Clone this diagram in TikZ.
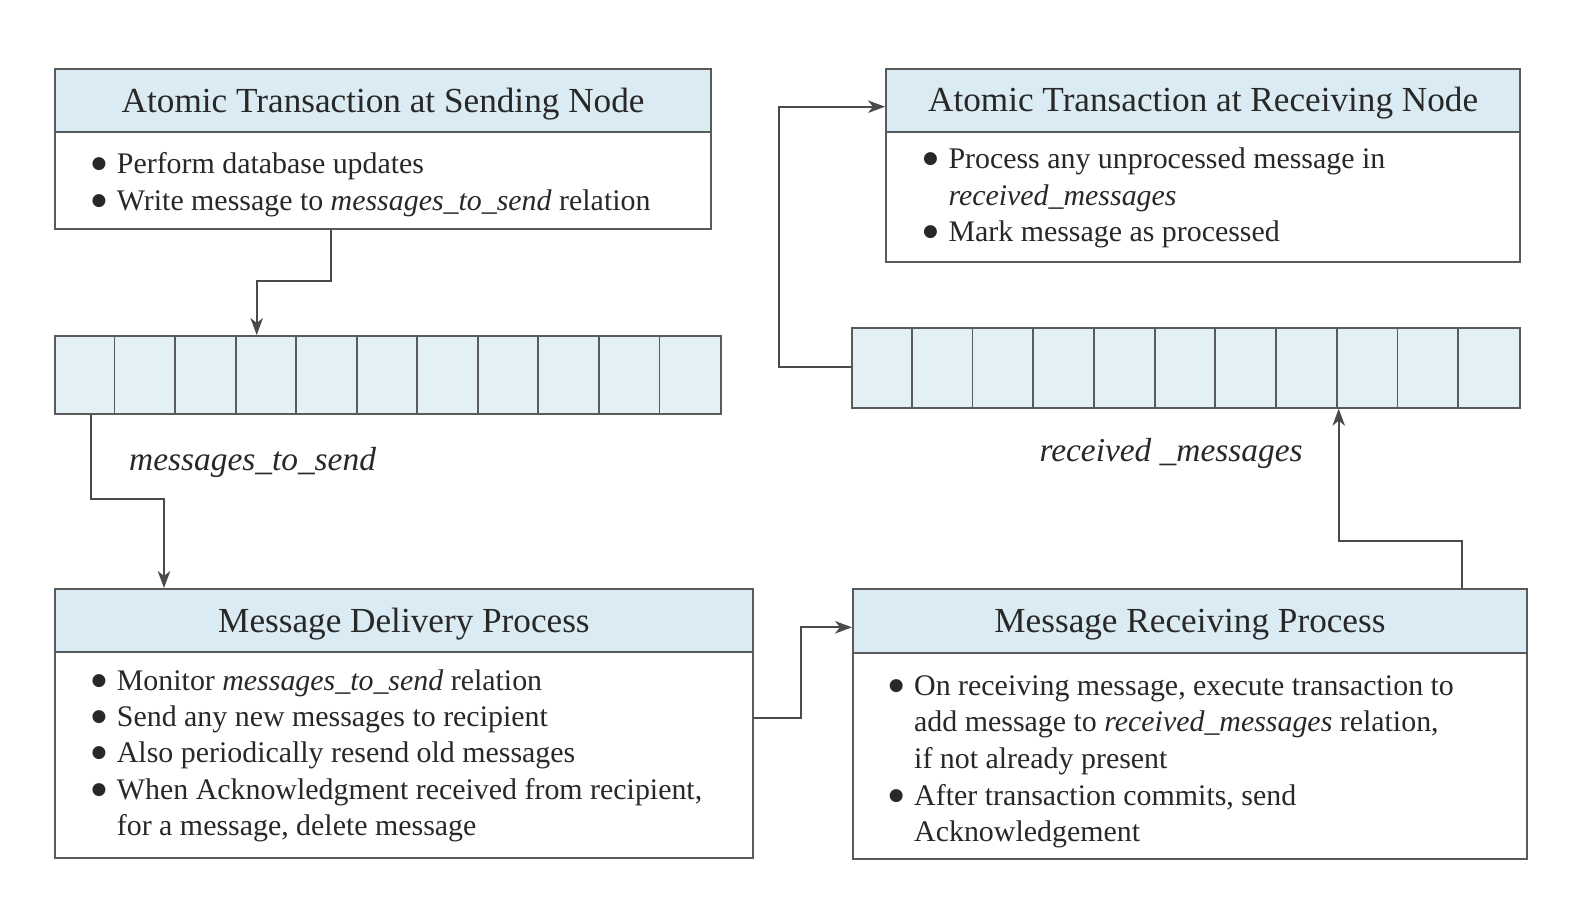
\documentclass[tikz,border=0pt]{standalone}
\usepackage{fontspec}
\setmainfont{Liberation Serif}
\newfontfamily\dotfont{DejaVu Sans}
\usetikzlibrary{arrows.meta}
\definecolor{hdrfill}{HTML}{DAEBF3}
\definecolor{cellfill}{HTML}{E3F0F6}
\definecolor{edgecol}{HTML}{5A5A5A}
\definecolor{conncol}{HTML}{4A4A4A}
\definecolor{txtcol}{HTML}{282828}
\newcommand{\bulmark}{\llap{\raisebox{5pt}{\dotfont\fontsize{17}{17}\selectfont ●}\hspace{10.5pt}}}
\begin{document}
\begin{tikzpicture}[x=1pt,y=-1pt,
  hdr/.style={draw=edgecol, line width=2.2pt, fill=hdrfill, anchor=north west,
    inner sep=0pt, text height=23.3pt, text depth=0pt,
    font=\fontsize{35.2}{40}\selectfont, text=txtcol},
  bodybox/.style={draw=edgecol, line width=2.2pt, fill=white, anchor=north west, inner sep=0pt},
  queue/.style={draw=edgecol, line width=2pt, fill=cellfill, anchor=north west, inner sep=0pt},
  divider/.style={draw=edgecol, line width=1.8pt},
  bl/.style={anchor=base west, inner sep=0pt, font=\fontsize{29.9}{36}\selectfont, text=txtcol},
  lbl/.style={anchor=base west, inner sep=0pt, font=\fontsize{33.4}{40}\selectfont\itshape, text=txtcol},
  conn/.style={draw=conncol, line width=1.8pt, -{Stealth[length=17pt,width=12.5pt,inset=5pt]}}]
\useasboundingbox (0,0) rectangle (1592,904);

% --- Box 1: sending node
\node[bodybox, minimum width=656pt, minimum height=96.7pt] (b1b) at (54,131) {};
\node[hdr, minimum width=656pt, minimum height=63.3pt] (b1h) at (54,67.7) {Atomic Transaction at Sending Node};
\node[bl] (b1l1) at (116.7,174) {\bulmark Perform database updates};
\node[bl] (b1l2) at (116.7,211) {\bulmark Write message to \textit{messages\_to\_send} relation};

% --- Box 2: receiving node
\node[bodybox, minimum width=634pt, minimum height=130.3pt] (b2b) at (885,130.7) {};
\node[hdr, minimum width=634pt, minimum height=63pt] (b2h) at (885,67.7) {Atomic Transaction at Receiving Node};
\node[bl] (b2l1) at (948.3,168.3) {\bulmark Process any unprocessed message in};
\node[bl] (b2l2) at (948.3,205) {\textit{received\_messages}};
\node[bl] (b2l3) at (948.3,241.7) {\bulmark Mark message as processed};

% --- Box 3: delivery process
\node[bodybox, minimum width=697.7pt, minimum height=205.5pt] (b3b) at (54,651) {};
\node[hdr, minimum width=697.7pt, minimum height=63pt] (b3h) at (54,588) {Message Delivery Process};
\node[bl] (b3l1) at (116.7,690) {\bulmark Monitor \textit{messages\_to\_send} relation};
\node[bl] (b3l2) at (116.7,726.3) {\bulmark Send any new messages to recipient};
\node[bl] (b3l3) at (116.7,762.6) {\bulmark Also periodically resend old messages};
\node[bl] (b3l4) at (116.7,799) {\bulmark When Acknowledgment received from recipient,};
\node[bl] (b3l5) at (116.7,835.3) {for a message, delete message};

% --- Box 4: receiving process
\node[bodybox, minimum width=673.7pt, minimum height=206.3pt] (b4b) at (852,651.7) {};
\node[hdr, minimum width=673.7pt, minimum height=63.7pt] (b4h) at (852,588) {Message Receiving Process};
\node[bl] (b4l1) at (914,695) {\bulmark On receiving message, execute transaction to};
\node[bl] (b4l2) at (914,731.7) {add message to \textit{received\_messages} relation,};
\node[bl] (b4l3) at (914,768) {if not already present};
\node[bl] (b4l4) at (914,805) {\bulmark After transaction commits, send};
\node[bl] (b4l5) at (914,841) {Acknowledgement};

% --- Queues
\node[queue, minimum width=666pt, minimum height=77.7pt] (q1) at (54,335) {};
\foreach \k in {1,...,10}
  \draw[divider] ([xshift={\k*60.545pt}]q1.north west) -- ([xshift={\k*60.545pt}]q1.south west);
\node[queue, minimum width=668pt, minimum height=80pt] (q2) at (851,326.7) {};
\foreach \k in {1,...,10}
  \draw[divider] ([xshift={\k*60.727pt}]q2.north west) -- ([xshift={\k*60.727pt}]q2.south west);

\node[lbl] (lab1) at (129,470) {messages\_to\_send};
\node[lbl] (lab2) at (1039.3,461.7) {received \_messages};

% --- Connectors
\draw[conn] (331,0 |- b1b.south) -- (331,281) -- (256.7,281) -- (256.7,0 |- q1.north);
\draw[conn] (91,0 |- q1.south) -- (91,499) -- (164,499) -- (164,0 |- b3h.north);
\draw[conn] (b3b.east |- 0,718.3) -- (801,718.3) -- (801,627.3) -- (b4h.west |- 0,627.3);
\draw[conn] (1461.7,0 |- b4h.north) -- (1461.7,540.7) -- (1338.7,540.7) -- (1338.7,0 |- q2.south);
\draw[conn] (q2.west |- 0,366.7) -- (779.3,366.7) -- (779.3,106.7) -- (b2h.west |- 0,106.7);
\end{tikzpicture}
\end{document}
